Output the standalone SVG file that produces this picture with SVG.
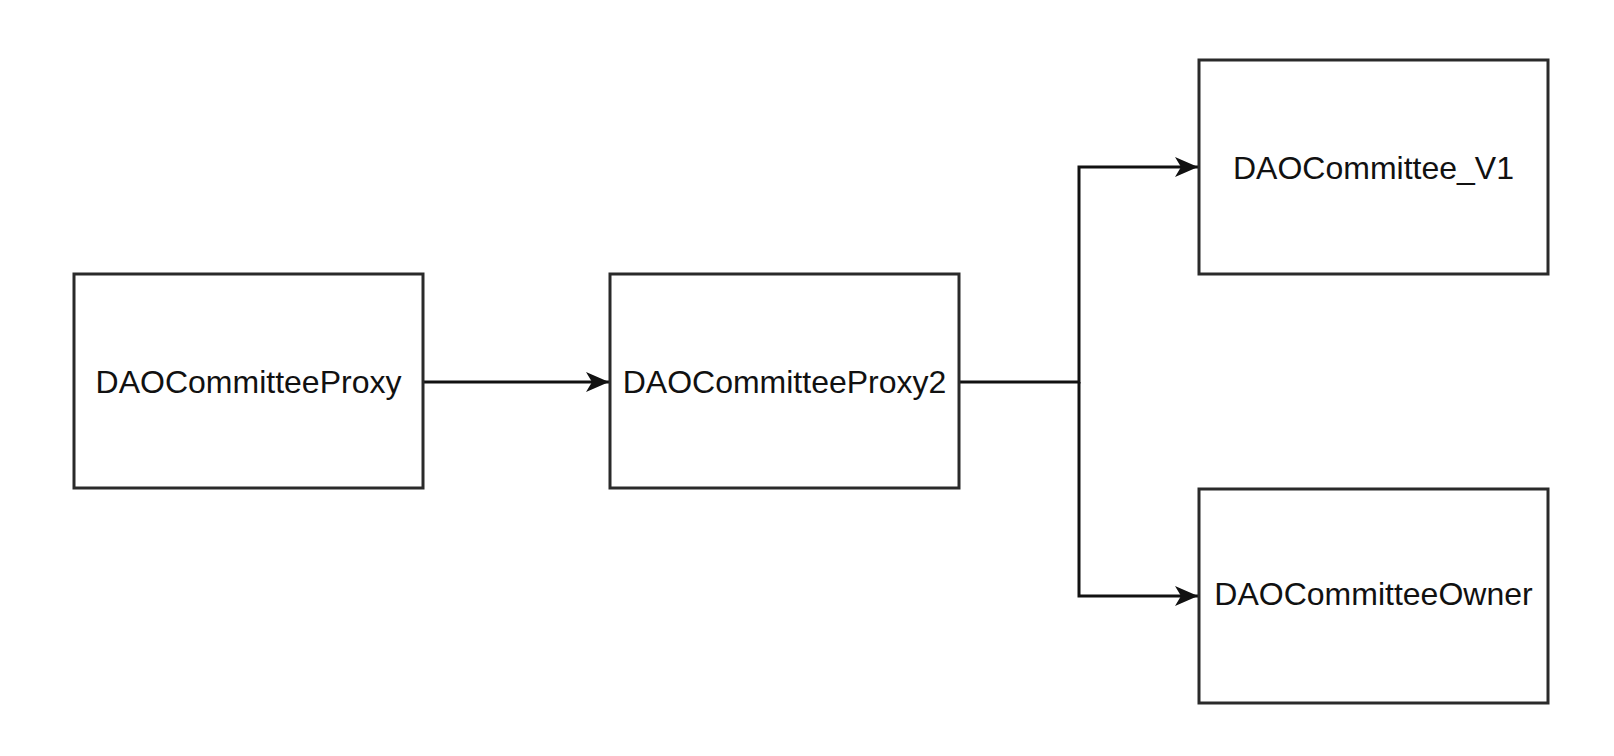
<svg xmlns="http://www.w3.org/2000/svg" width="1614" height="756" viewBox="0 0 1614 756">
  <style>
    .box { fill: #ffffff; stroke: #2a2a2a; stroke-width: 3; }
    .label { font-family: "Liberation Sans", Arial, sans-serif; font-size: 32px; fill: #111111; text-anchor: middle; }
    .edge { fill: none; stroke: #111111; stroke-width: 3; }
  </style>
  <defs>
    <marker id="arrow" markerUnits="userSpaceOnUse" markerWidth="26" markerHeight="24" viewBox="0 0 26 24" refX="24" refY="12" orient="auto">
      <path d="M24,12 L1,2 L7,12 L1,22 Z" fill="#111111"/>
    </marker>
  </defs>
  <rect width="1614" height="756" fill="#ffffff"/>
  <g id="connectors">
    <path class="edge" d="M423,382 L609,382" marker-end="url(#arrow)"/>
    <path class="edge" d="M959,382 L1079,382 L1079,167 L1198,167" marker-end="url(#arrow)"/>
    <path class="edge" d="M1079,382 L1079,596 L1198,596" marker-end="url(#arrow)"/>
  </g>
  <g id="node-proxy">
    <rect class="box" x="74" y="274" width="349" height="214"/>
    <text class="label" x="248.5" y="393">DAOCommitteeProxy</text>
  </g>
  <g id="node-proxy2">
    <rect class="box" x="610" y="274" width="349" height="214"/>
    <text class="label" x="784.5" y="393">DAOCommitteeProxy2</text>
  </g>
  <g id="node-v1">
    <rect class="box" x="1199" y="60" width="349" height="214"/>
    <text class="label" x="1373.5" y="179">DAOCommittee_V1</text>
  </g>
  <g id="node-owner">
    <rect class="box" x="1199" y="489" width="349" height="214"/>
    <text class="label" x="1373.5" y="605">DAOCommitteeOwner</text>
  </g>
</svg>
